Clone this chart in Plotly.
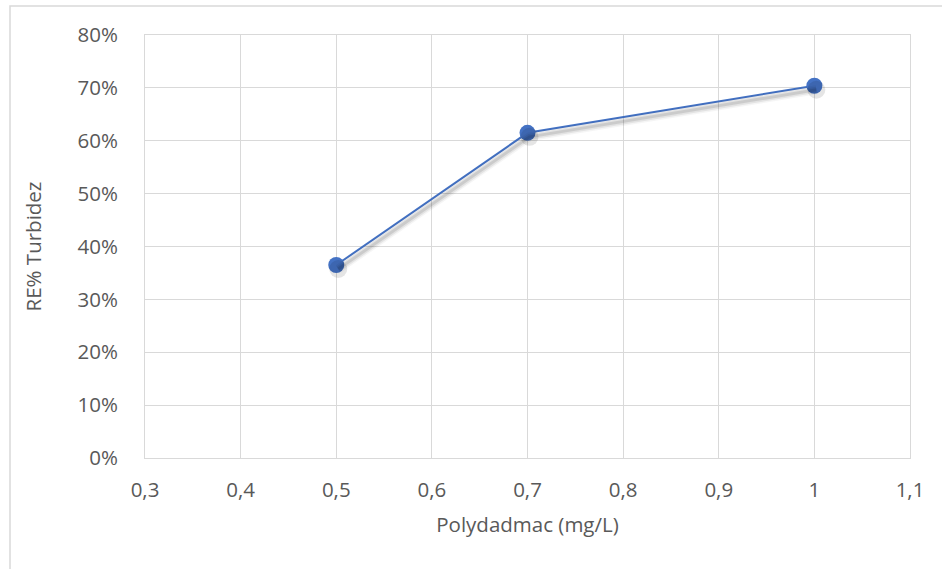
import plotly.graph_objects as go

dose = [0.5, 0.7, 1.0]
removal = [0.365, 0.615, 0.704]
x_ticks = [0.3, 0.4, 0.5, 0.6, 0.7, 0.8, 0.9, 1.0, 1.1]
x_labels = ["0,3", "0,4", "0,5", "0,6", "0,7", "0,8", "0,9", "1", "1,1"]
y_ticks = [i / 10 for i in range(9)]
y_labels = [f"{i*10}%" for i in range(9)]

W, H = 942, 569
L, R, T, B = 145, 32, 35, 111
pw, ph = W - L - R, H - T - B

# small pixel offsets for the soft drop shadow
dx_px, dy_px = 2, 4
dx = dx_px / pw * 0.8
dy = dy_px / ph * 0.8

fig = go.Figure()
for w, a in [(9, 0.04), (6, 0.07), (3, 0.10)]:
    fig.add_trace(go.Scatter(
        x=dose, y=removal, mode="lines", xaxis="x2", yaxis="y2",
        line=dict(color=f"rgba(0,0,0,{a})", width=w),
        showlegend=False, hoverinfo="skip",
    ))
fig.add_trace(go.Scatter(
    x=dose, y=removal, mode="markers", xaxis="x2", yaxis="y2",
    marker=dict(color="rgba(0,0,0,0.10)", size=18, line=dict(width=0)),
    showlegend=False, hoverinfo="skip",
))
fig.add_trace(go.Scatter(
    x=dose, y=removal, mode="lines+markers",
    line=dict(color="#4472C4", width=2),
    marker=dict(color="#4472C4", size=16, line=dict(width=0)),
    showlegend=False, cliponaxis=False,
))

font = dict(family="Open Sans, Liberation Sans, sans-serif", size=20.5, color="#595959")
fig.update_layout(
    width=W, height=H, margin=dict(l=L, r=R, t=T, b=B),
    paper_bgcolor="white", plot_bgcolor="white", font=font,
    xaxis=dict(range=[0.3, 1.1], tickvals=x_ticks, ticktext=x_labels,
               showgrid=True, gridcolor="#D9D9D9", gridwidth=1,
               zeroline=False, showline=True, linecolor="#D9D9D9",
               mirror=True, ticks="", ticklabelstandoff=13,
               title=dict(text="Polydadmac (mg/L)", standoff=16, font=font)),
    yaxis=dict(range=[0, 0.8], tickvals=y_ticks, ticktext=y_labels,
               showgrid=True, gridcolor="#D9D9D9", gridwidth=1,
               zeroline=False, showline=True, linecolor="#D9D9D9",
               mirror=True, ticks="", ticklabelstandoff=22,
               title=dict(text="RE% Turbidez", standoff=30, font=font)),
    xaxis2=dict(range=[0.3 - dx, 1.1 - dx], overlaying="x", visible=False),
    yaxis2=dict(range=[0 + dy, 0.8 + dy], overlaying="y", visible=False),
    shapes=[dict(type="rect", xref="paper", yref="paper",
                 x0=(10 - L) / pw, x1=1.2, y0=-0.5, y1=1 + (T - 6) / ph,
                 line=dict(color="#D9D9D9", width=1.5), layer="below")],
)
fig.write_html("out.html")
